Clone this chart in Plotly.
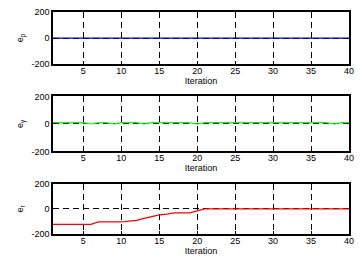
import plotly.graph_objects as go
from plotly.subplots import make_subplots

iterations = list(range(1, 41))
e_p = [0] * 40
e_y = [10, 10, 10, 10, 10, 0, 10, 10, 0, 10,
       10, 10, 0, 10, 10, 10, 10, 10, 10, 0,
       10, 10, 10, 10, 10, 10, 10, 10, 10, 10,
       10, 10, 10, 10, 10, 10, 10, 0, 10, 10]
e_r = [-123, -123, -123, -123, -123, -123, -104, -104, -104, -104,
       -97, -91, -75, -60, -47, -42, -31, -31, -31, -15,
       0, 0, 0, 0, 0, 0, 0, 0, 0, 0,
       0, 0, 0, 0, 0, 0, 0, 0, 0, 0]
x_ticks = [5, 10, 15, 20, 25, 30, 35, 40]
y_ticks = [-200, 0, 200]
y_tick_text = ["-200", "0", "200"]
y_labels = ["e<sub>p</sub>", "e<sub>y</sub>", "e<sub>r</sub>"]
colors = ["#0000c0", "#00ff00", "#ff0000"]
series = [e_p, e_y, e_r]

fig = make_subplots(rows=3, cols=1)
font = dict(family="Liberation Sans, Arial", size=9, color="black")

# paper domains (from pixel positions)
domains = [[0.7655, 1.0], [0.3717, 0.6195], [0.0, 0.2257]]

for i in range(3):
    fig.add_trace(go.Scatter(x=iterations, y=series[i], mode="lines",
                             line=dict(color=colors[i], width=1.2),
                             showlegend=False), row=i + 1, col=1)
    fig.update_xaxes(range=[1, 40], tickvals=x_ticks, showgrid=True,
                     gridcolor="black", griddash="6px,4px", gridwidth=1,
                     showline=True, linecolor="black", linewidth=1.5, mirror=True,
                     ticks="inside", ticklen=3, tickcolor="black",
                     ticklabelstandoff=-3,
                     title=dict(text="Iteration", font=font, standoff=0),
                     tickfont=font, zeroline=False, row=i + 1, col=1)
    fig.update_yaxes(range=[-200, 200], tickvals=y_ticks, ticktext=y_tick_text,
                     showgrid=True,
                     gridcolor="black", griddash="6px,4px", gridwidth=1,
                     showline=True, linecolor="black", linewidth=1.5, mirror=True,
                     ticks="inside", ticklen=3, tickcolor="black",
                     title=dict(text=y_labels[i], font=font, standoff=6),
                     tickfont=font, zeroline=False, domain=domains[i],
                     row=i + 1, col=1)

fig.update_layout(width=361, height=273, margin=dict(l=53, r=7, t=8, b=39),
                  paper_bgcolor="white", plot_bgcolor="white", font=font)

fig.write_html("out.html", config={"displayModeBar": False},
               post_script="document.body.style.margin='0';document.body.style.overflow='hidden';")
